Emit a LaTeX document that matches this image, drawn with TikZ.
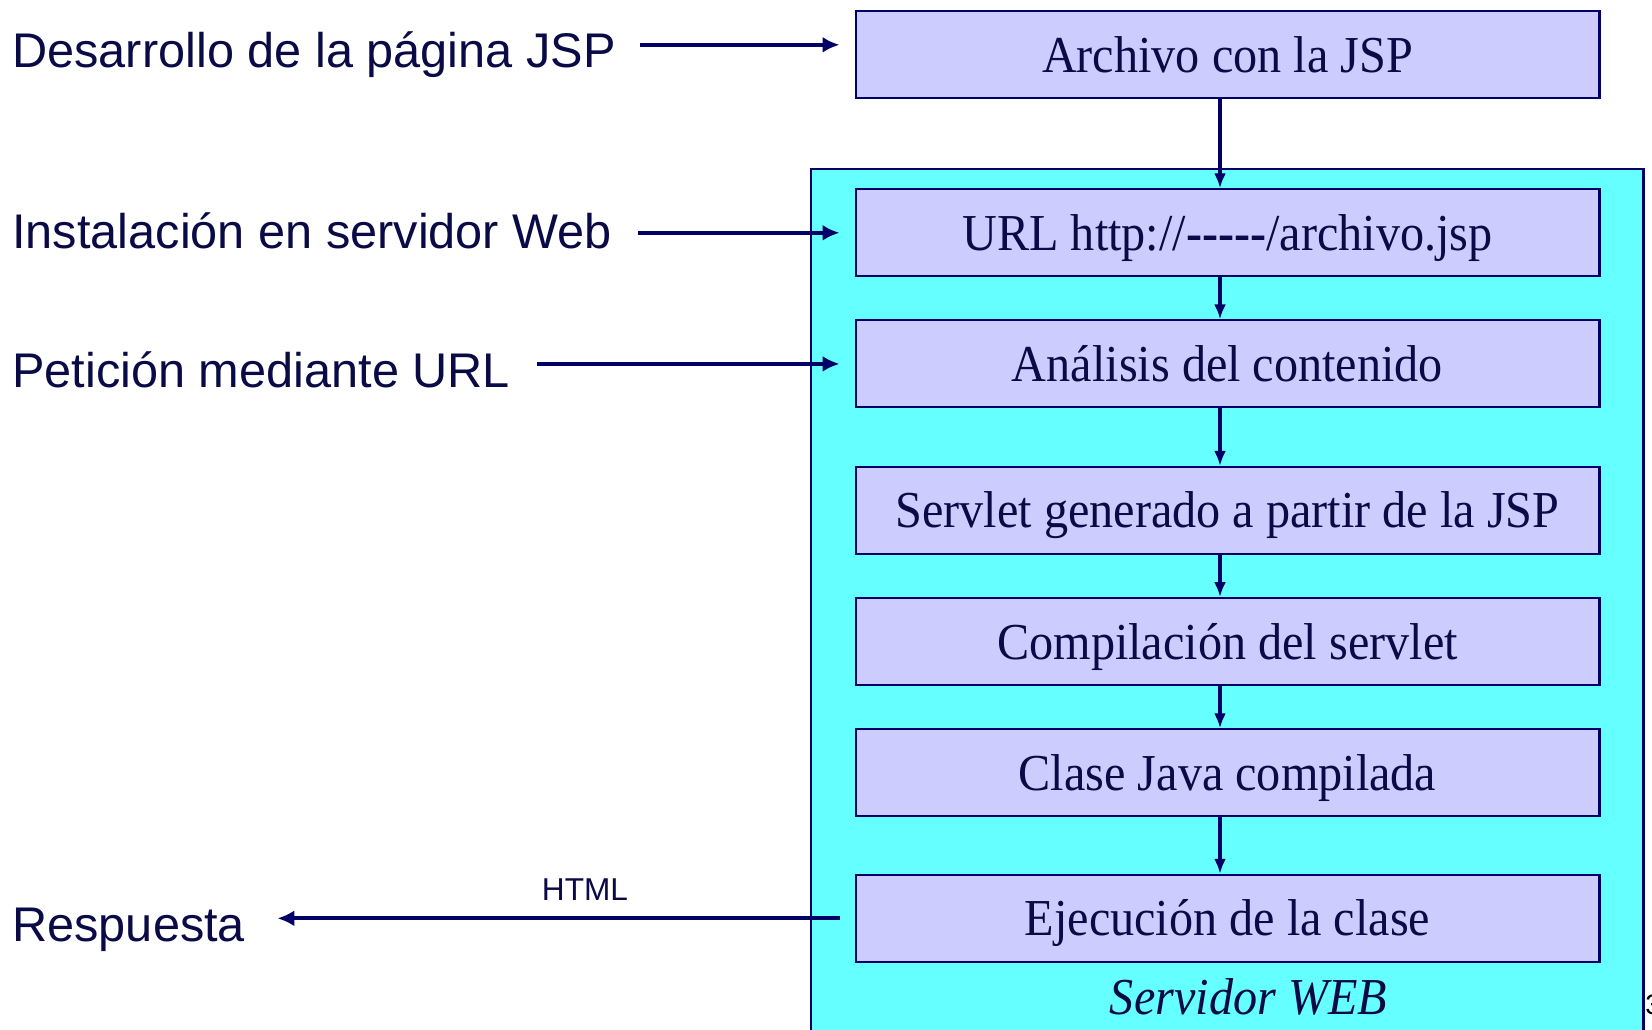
\documentclass[tikz,border=0pt]{standalone}
\usepackage{fontspec}
\setmainfont{Liberation Serif}
\setsansfont{Liberation Sans}
\newfontfamily\boxfont[FakeStretch=0.93]{Liberation Serif}
\usepackage{xcolor}
\usetikzlibrary{arrows.meta,positioning,calc}
\definecolor{Navy}{HTML}{000066}
\definecolor{Ink}{HTML}{0A0A46}
\definecolor{Server}{HTML}{66FFFF}
\definecolor{Lilac}{HTML}{CCCCFF}
\tikzset{
  stage/.style={draw=Navy, line width=1.2pt, fill=Lilac, minimum width=14.88cm, minimum height=1.74cm, inner sep=0pt, text height=0.75cm, text depth=0.05cm, text=Ink, font=\boxfont\fontsize{29.5}{34}\selectfont},
  lefttext/.style={anchor=base west, inner sep=0pt, text=Ink, font=\sffamily\fontsize{27.7}{32}\selectfont},
  flow/.style={Navy, line width=2.4pt, -{Latex[length=0.34cm,width=0.32cm]}},
  vflow/.style={Navy, line width=1.8pt, -{Latex[length=0.3cm,width=0.24cm]}}
}

\begin{document}
\begin{tikzpicture}[x=0.02cm, y=-0.02cm]
        \useasboundingbox (0,0) rectangle (1652,1029);
        \begin{scope}
          \clip (0,0) rectangle (1652,1029);
          \draw[draw=Navy, line width=1.2pt, fill=Server] (811,168.6) rectangle (1643.5,1060);
        \end{scope}
        \node[stage] (archivo) at (1227.5,54.8) {Archivo con la JSP};
        \node[stage] (url) at (1227.5,232.8) {URL http://\textbf{-{}-{}-{}-{}-}/archivo.jsp};
        \node[stage] (analisis) at (1227.5,363.9) {Análisis del contenido};
        \node[stage] (servlet) at (1227.5,510.4) {Servlet generado a partir de la JSP};
        \node[stage] (compilacion) at (1227.5,641.6) {Compilación del servlet};
        \node[stage] (clase) at (1227.5,772.8) {Clase Java compilada};
        \node[stage] (ejecucion) at (1227.5,918.3) {Ejecución de la clase};
        \node[anchor=base, inner sep=0pt, text=Ink, font=\boxfont\itshape\fontsize{29.5}{34}\selectfont] (servidor) at (1248.5,1014) {Servidor WEB};
        \node[anchor=west, inner sep=0pt, font=\sffamily\fontsize{16}{18}\selectfont] (pagina) at (1645,1005) {3};

        \node[lefttext] (desarrollo) at (12,67) {Desarrollo de la página JSP};
        \node[lefttext] (instalacion) at (12,248.6) {Instalación en servidor Web};
        \node[lefttext] (peticion) at (12,387.7) {Petición mediante URL};
        \node[lefttext] (respuesta) at (12,941) {Respuesta};
        \node[text=Ink, font=\sffamily\fontsize{18}{20}\selectfont] (html) at (585,890) {HTML};

        \coordinate (entrada) at ([yshift=0.2cm]archivo.west);
        \draw[flow, shorten <=0.48cm, shorten >=0.3cm] (desarrollo.east |- entrada) -- (entrada);
        \draw[flow, shorten <=0.52cm, shorten >=0.3cm] (instalacion.east |- url.west) -- (url.west);
        \draw[flow, shorten <=0.54cm, shorten >=0.3cm] (peticion.east |- analisis.west) -- (analisis.west);
        \draw[flow, shorten <=0.3cm, shorten >=0.64cm] (ejecucion.west) -- (respuesta.east |- ejecucion.west);

        \draw[vflow] ([xshift=-0.15cm]archivo.south) -- ([xshift=-0.15cm]url.north);
        \draw[vflow] ([xshift=-0.15cm]url.south) -- ([xshift=-0.15cm]analisis.north);
        \draw[vflow] ([xshift=-0.15cm]analisis.south) -- ([xshift=-0.15cm]servlet.north);
        \draw[vflow] ([xshift=-0.15cm]servlet.south) -- ([xshift=-0.15cm]compilacion.north);
        \draw[vflow] ([xshift=-0.15cm]compilacion.south) -- ([xshift=-0.15cm]clase.north);
        \draw[vflow] ([xshift=-0.15cm]clase.south) -- ([xshift=-0.15cm]ejecucion.north);
      \end{tikzpicture}
\end{document}
